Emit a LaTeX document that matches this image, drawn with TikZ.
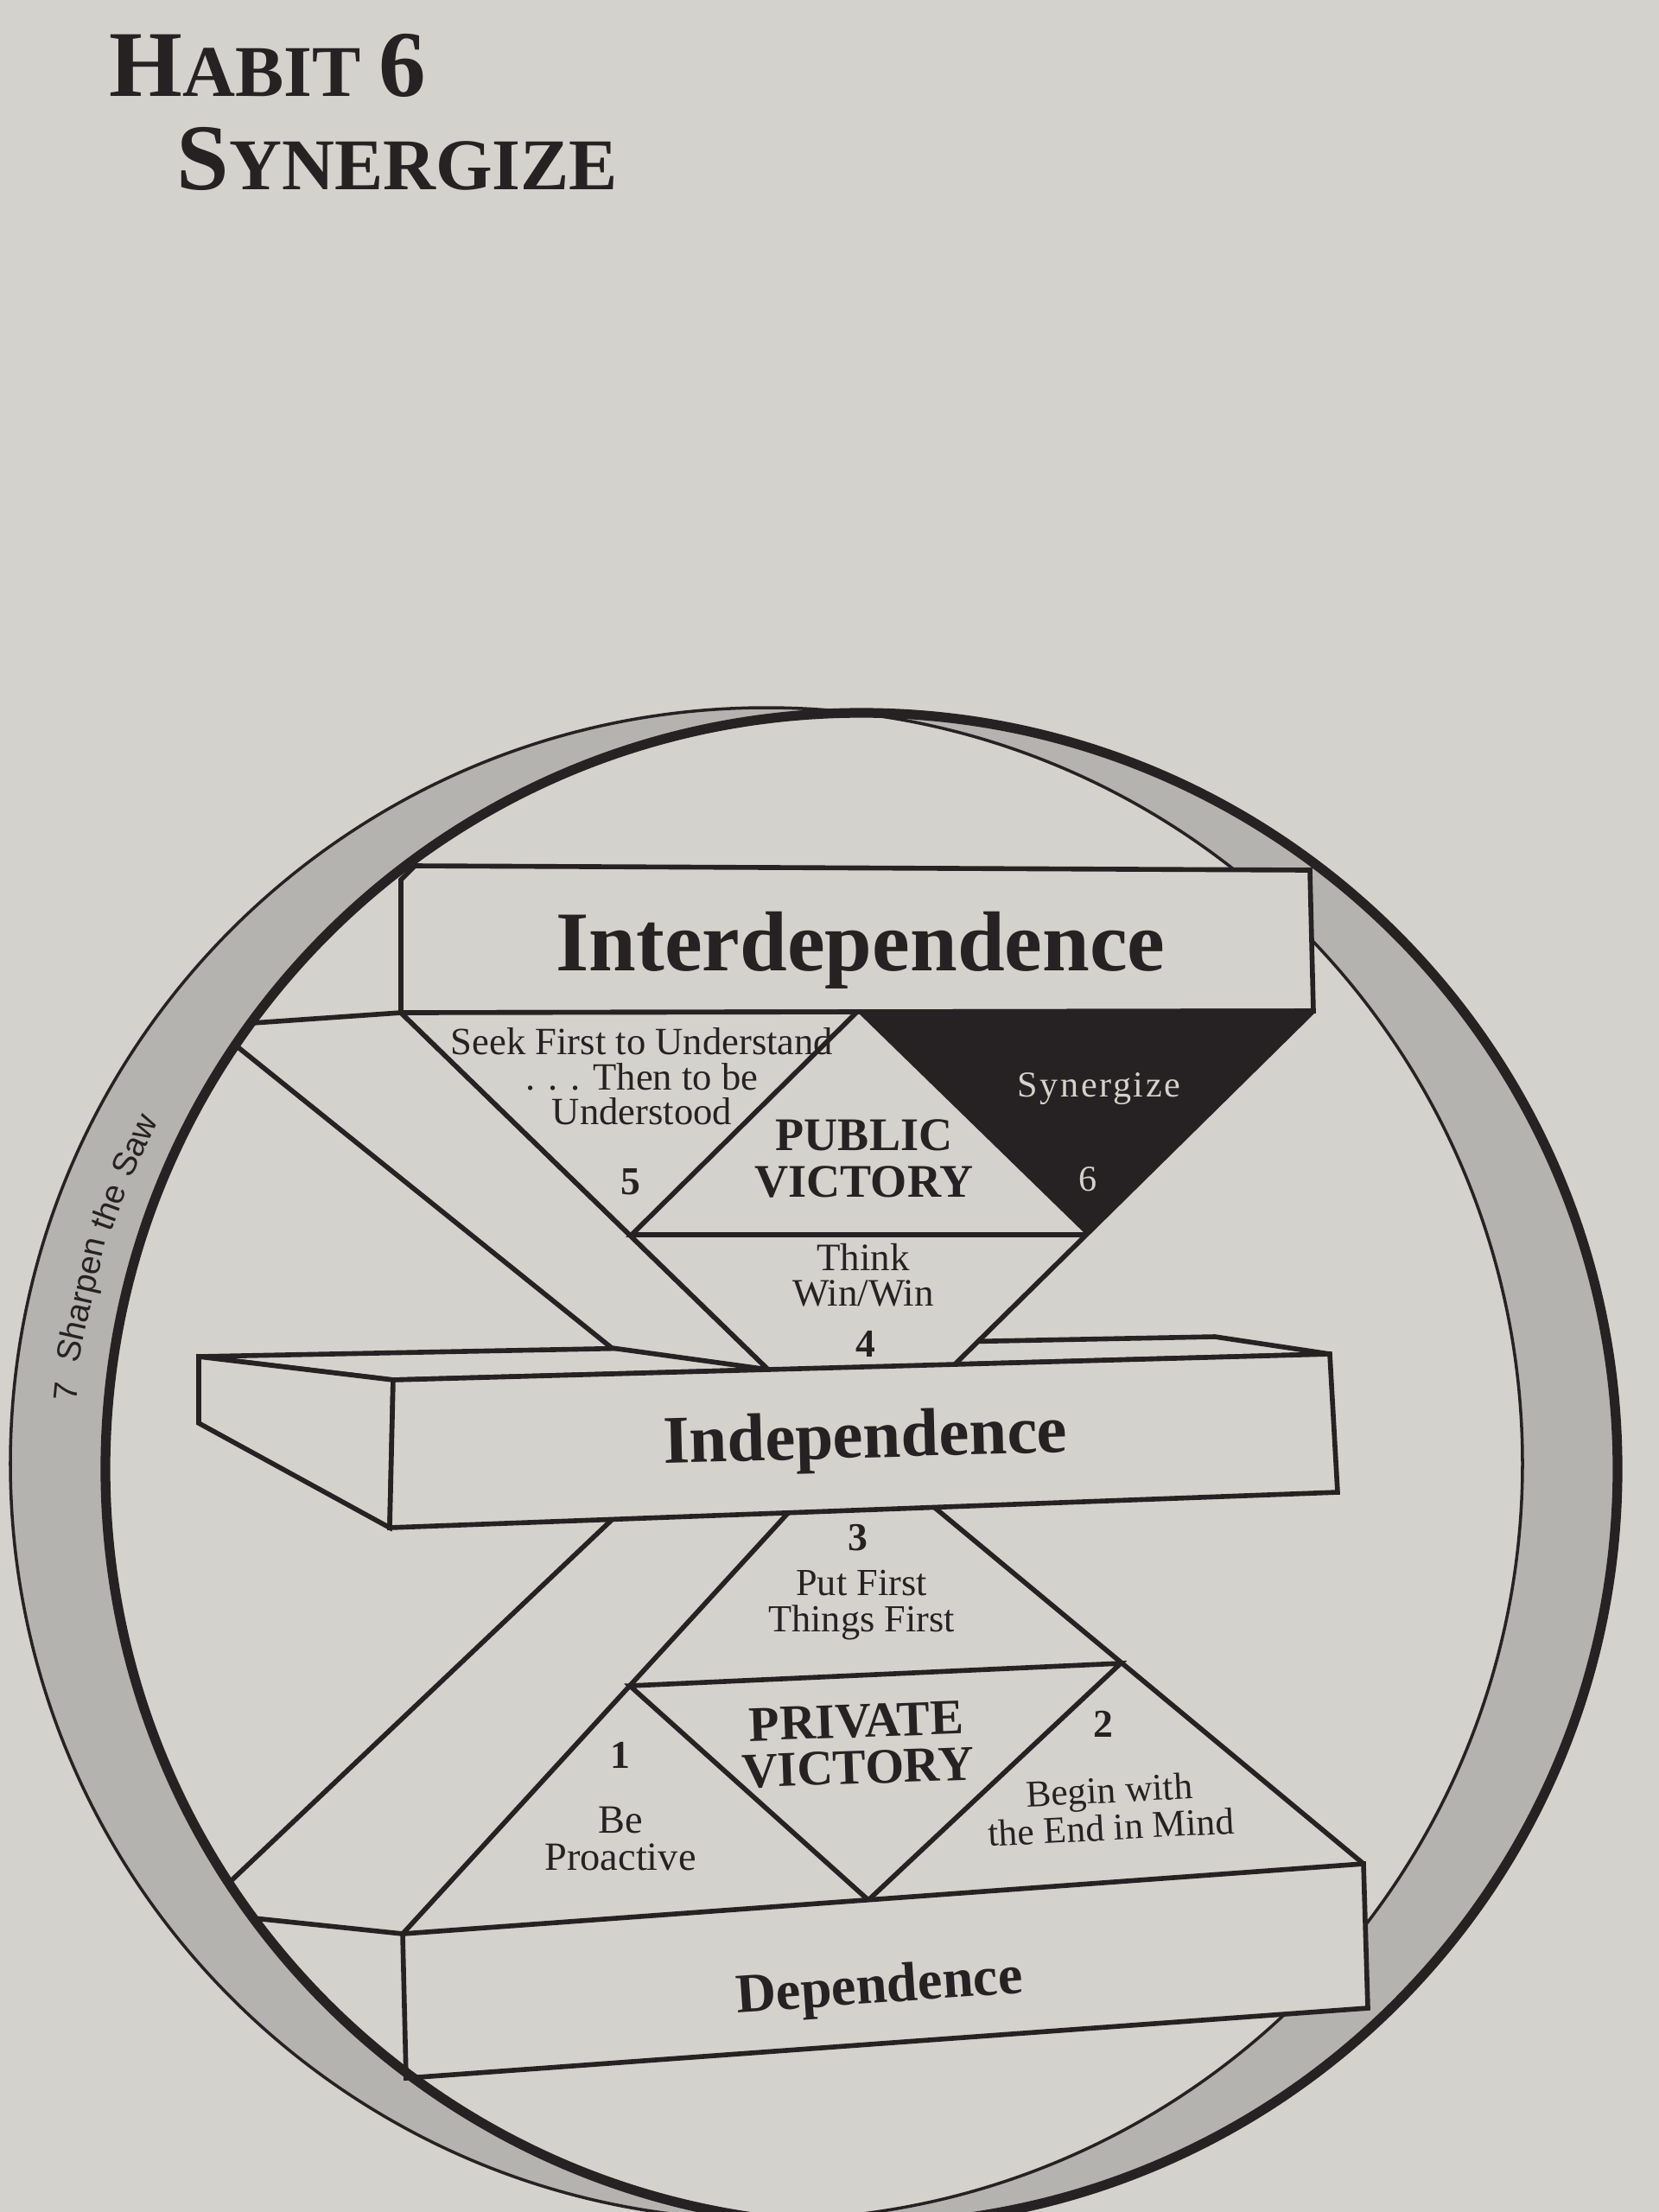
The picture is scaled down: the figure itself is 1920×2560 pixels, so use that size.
\documentclass[tikz,border=0pt]{standalone}
\usepackage{fontspec}
\setmainfont{Liberation Serif}
\newfontfamily\sawfont{Liberation Sans}

\definecolor{paper}{RGB}{212,210,204}
\definecolor{ink}{RGB}{38,34,36}
\definecolor{band}{RGB}{180,179,176}

\tikzset{
  slab/.style={fill=paper, draw=ink, line width=1.6pt, line join=miter},
  rib/.style={draw=ink, line width=1.6pt},
  lbl/.style={text=ink, align=center, inner sep=0pt, font=\fontsize{12.7}{11.5}\selectfont},
  big/.style={text=ink, inner sep=0pt, anchor=base, font=\bfseries\fontsize{#1}{#1}\selectfont},
  vic/.style={text=ink, align=center, inner sep=0pt, font=\bfseries\fontsize{#1}{15.3}\selectfont},
  num/.style={text=ink, inner sep=0pt, font=\bfseries\fontsize{13}{13}\selectfont},
  saw/.style={text=ink, inner sep=0pt, anchor=base, font=\sawfont\fontsize{11}{11}\selectfont}
}

\begin{document}
\begin{tikzpicture}[x=0.1mm, y=-0.1mm]
    \useasboundingbox (0,0) rectangle (1920,2560);
    \fill[paper] (0,0) rectangle (1920,2560);
    \clip (0,0) rectangle (1920,2560);

    % Title
    \node[anchor=base west, text=ink, inner sep=0pt, font=\bfseries] (habit) at (126,111)
      {\fontsize{31}{31}\selectfont H\fontsize{24}{24}\selectfont ABIT \fontsize{31}{31}\selectfont 6};
    \node[anchor=base west, text=ink, inner sep=0pt, font=\bfseries] (title) at (204,219)
      {\fontsize{31}{31}\selectfont S\fontsize{24}{24}\selectfont YNERGIZE};

    % Ring
    \coordinate (cB) at (887,1694);
    \coordinate (cA) at (997,1700);
    \fill[band, even odd rule] (cB) circle[radius=875] (cA) circle[radius=875];
    \draw[ink, line width=1pt] (cB) circle[radius=875];
    \foreach \ang/\word [count=\i] in {185.7/7, 192.8/Sharpen, 200.2/the, 205.3/Saw}
      \node[saw, rotate=270-\ang] (saw\i) at ([shift={(\ang:857)}]942,1697) {\word};

    % Corners
    \coordinate (T1) at (480,1002);
    \coordinate (T2) at (1516,1007);
    \coordinate (T3) at (1520,1170);
    \coordinate (T4) at (464,1172);
    \coordinate (T5) at (464,1018);
    \coordinate (uM) at (992,1171);
    \coordinate (pvL) at (731,1429);
    \coordinate (pvR) at (1257,1429);
    \coordinate (uBL) at (889,1585);
    \coordinate (uBR) at (1105,1579);
    \coordinate (w1) at (292,1184);
    \coordinate (w2) at (273,1210);
    \coordinate (w3) at (708,1560);
    \coordinate (iBL) at (230,1570);
    \coordinate (iBR) at (1406,1547);
    \coordinate (iLB) at (230,1647);
    \coordinate (iFTL) at (455,1597);
    \coordinate (iFTR) at (1539,1567);
    \coordinate (iFBR) at (1548,1727);
    \coordinate (iFBL) at (451,1768);
    \coordinate (w4) at (709,1758);
    \coordinate (w5) at (265,2179);
    \coordinate (w6) at (294,2220);
    \coordinate (lL) at (912,1751);
    \coordinate (lR) at (1082,1745);
    \coordinate (prL) at (729,1951);
    \coordinate (prR) at (1297,1925);
    \coordinate (prB) at (1005,2199);
    \coordinate (dTL) at (466,2238);
    \coordinate (dTR) at (1578,2157);
    \coordinate (dBR) at (1583,2324);
    \coordinate (dBL) at (470,2405);

    % Interdependence
    \filldraw[slab] (T1) -- (T2) -- (T3) -- (T4) -- (T5) -- cycle;

    % Independence, top and end
    \filldraw[slab] (iBL) -- (iBR) -- (iFTR) -- (iFTL) -- cycle;
    \filldraw[slab] (iBL) -- (iFTL) -- (iFBL) -- (iLB) -- cycle;

    % Public victory
    \filldraw[slab] (w1) -- (T4) -- (uBL) -- (w3) -- (w2);
    \fill[paper] (T4) -- (uBL) -- (uBR) -- (T3) -- cycle;
    \draw[rib] (T4) -- (uBL) (T3) -- (uBR) (uM) -- (pvL) -- (pvR) (T4) -- (T3);
    \fill[ink] (uM) -- (T3) -- (pvR) -- cycle;

    % Independence, front
    \filldraw[slab] (iFTL) -- (iFTR) -- (iFBR) -- (iFBL) -- cycle;

    % Private victory
    \draw[rib] (w4) -- (w5) (w6) -- (dTL) (lL) -- (dTL) (lR) -- (dTR);
    \draw[rib] (prL) -- (prR) -- (prB) -- cycle;
    \filldraw[slab] (dTL) -- (dTR) -- (dBR) -- (dBL) -- cycle;

    \draw[ink, line width=3.2pt] (cA) circle[radius=875];

    % Labels
    \node[big=28] (inter) at (996,1123) {Interdependence};
    \node[lbl] (seek) at (743,1246) {Seek First to Understand\\. . . Then to be\\Understood};
    \node[num] (n5) at (730,1368) {5};
    \node[vic=15.4] (pubvic) at (1000,1341) {PUBLIC\\VICTORY};
    \node[lbl, text=paper, font=\fontsize{12}{12}\selectfont\addfontfeature{LetterSpace=6}] (syn) at (1272,1260) {Synergize};
    \node[num, text=paper, font=\fontsize{12}{12}\selectfont] (n6) at (1259,1365) {6};
    \node[lbl, font=\fontsize{12.8}{11.7}\selectfont] (think) at (999,1476) {Think\\Win/Win};
    \node[num] (n4) at (1002,1555) {4};
    \node[big=22.4, rotate=1.5] (indep) at (1002,1687) {Independence};
    \node[num] (n3) at (993,1780) {3};
    \node[lbl, font=\fontsize{12.6}{12}\selectfont] (putfirst) at (997,1858) {Put First\\Things First};
    \node[vic=16.4, rotate=2] (privic) at (992,2019) {PRIVATE\\VICTORY};
    \node[num] (n1) at (718,2031) {1};
    \node[lbl, font=\fontsize{13.2}{12.2}\selectfont] (proact) at (718,2128) {Be\\Proactive};
    \node[num] (n2) at (1277,1995) {2};
    \node[lbl, rotate=3, font=\fontsize{12.4}{10.5}\selectfont] (begin) at (1285,2093) {Begin with\\the End in Mind};
    \node[big=18.3, rotate=4] (dep) at (1019,2318) {Dependence};
\end{tikzpicture}
\end{document}
